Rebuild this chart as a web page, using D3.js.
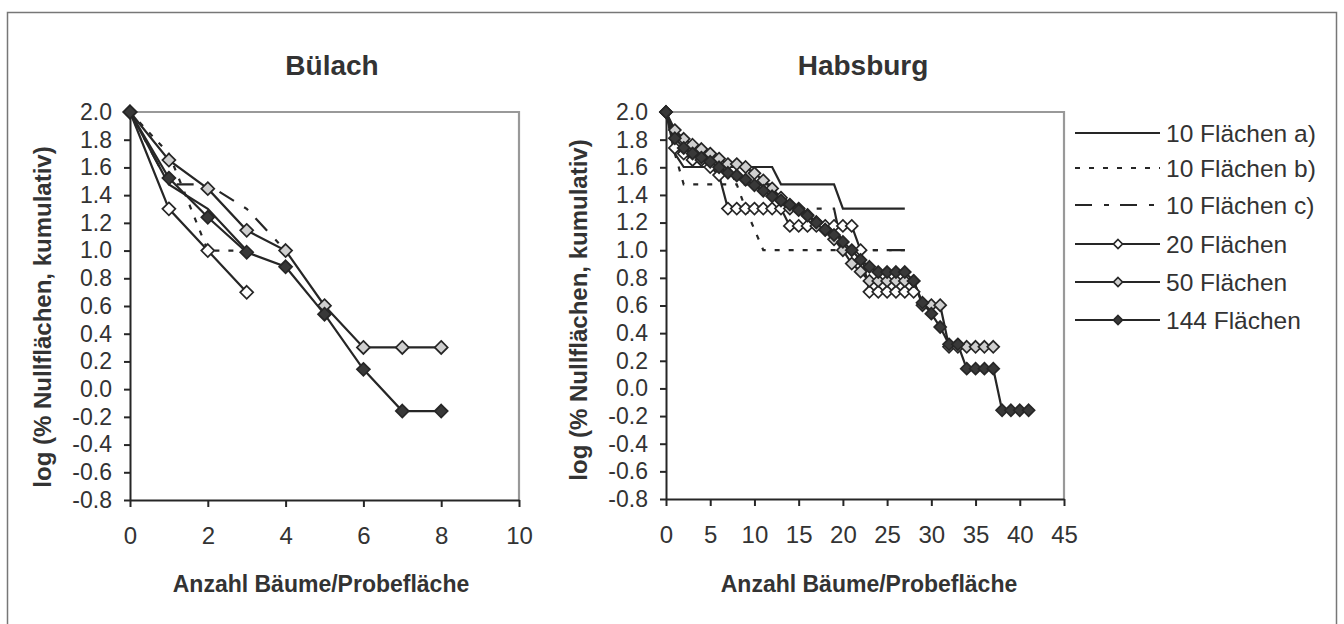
<!DOCTYPE html>
<html><head><meta charset="utf-8">
<script src="https://cdn.jsdelivr.net/npm/d3@7/dist/d3.min.js"></script>
<style>body{margin:0;background:#fff} svg{display:block}</style>
</head><body><svg id="c" width="1344" height="624"></svg>
<script>
// ---------- DATA ----------
const seriesNames = ["10 Flächen a)", "10 Flächen b)", "10 Flächen c)", "20 Flächen", "50 Flächen", "144 Flächen"];
const yTicks = [-0.8, -0.6, -0.4, -0.2, 0.0, 0.2, 0.4, 0.6, 0.8, 1.0, 1.2, 1.4, 1.6, 1.8, 2.0];
const xTicksBulach = [0, 2, 4, 6, 8, 10];
const xTicksHabsburg = [0, 5, 10, 15, 20, 25, 30, 35, 40, 45];

// Bülach: value at x = 0,1,2,... (Anzahl Bäume/Probefläche)
const bulach_a   = [2.0, 1.477, 1.301, 1.0];
const bulach_b   = [2.0, 1.699, 1.0, 1.0];
const bulach_c   = [2.0, 1.477, 1.477, 1.301, 1.0];
const bulach_20  = [2.0, 1.301, 1.0, 0.699];
const bulach_50  = [2.0, 1.653, 1.447, 1.146, 1.0, 0.602, 0.301, 0.301, 0.301];
const bulach_144 = [2.0, 1.523, 1.24, 0.988, 0.883, 0.541, 0.143, -0.158, -0.158];

// Habsburg
const habsburg_a = [2.0, 1.699, 1.602, 1.602, 1.602, 1.602, 1.602, 1.602, 1.602, 1.602, 1.602, 1.602, 1.602,
  1.477, 1.477, 1.477, 1.477, 1.477, 1.477, 1.477, 1.301, 1.301, 1.301, 1.301, 1.301, 1.301, 1.301, 1.301];
const habsburg_b = [2.0, 1.699, 1.477, 1.477, 1.477, 1.477, 1.477, 1.477, 1.477, 1.30, 1.15,
  1.0, 1.0, 1.0, 1.0, 1.0, 1.0, 1.0, 1.0, 1.0, 1.0, 1.0, 1.0, 1.0, 1.0, 1.0, 1.0, 1.0];
const habsburg_c = [2.0, 1.845, 1.778, 1.699, 1.699, 1.602, 1.602, 1.602, 1.477, 1.477, 1.477, 1.477, 1.477,
  1.301, 1.301, 1.301, 1.301, 1.301, 1.301, 1.301, 1.0, 1.0, 1.0, 1.0, 1.0, 1.0, 1.0, 1.0];
const habsburg_20 = [2.0, 1.740, 1.699, 1.653, 1.653, 1.602, 1.544, 1.301, 1.301, 1.301, 1.301, 1.301, 1.301, 1.301,
  1.176, 1.176, 1.176, 1.176, 1.176, 1.176, 1.176, 1.176, 1.0, 0.699, 0.699, 0.699, 0.699, 0.699, 0.699];
const habsburg_50 = [2.0, 1.869, 1.806, 1.763, 1.732, 1.699, 1.663, 1.623, 1.623, 1.602, 1.556, 1.505, 1.447, 1.380,
  1.301, 1.301, 1.255, 1.204, 1.146, 1.079, 1.0, 0.903, 0.845, 0.778, 0.778, 0.778, 0.778, 0.778, 0.778,
  0.602, 0.602, 0.602, 0.301, 0.301, 0.301, 0.301, 0.301, 0.301];
const habsburg_144 = [2.0, 1.81, 1.74, 1.70, 1.67, 1.64, 1.60, 1.56, 1.54, 1.51, 1.47, 1.43, 1.39, 1.36, 1.33, 1.29,
  1.25, 1.20, 1.15, 1.11, 1.06, 1.00, 0.93, 0.88, 0.842, 0.842, 0.842, 0.842, 0.778, 0.620, 0.541, 0.444,
  0.319, 0.319, 0.143, 0.143, 0.143, 0.143, -0.158, -0.158, -0.158, -0.158];

// ---------- STYLE ----------
const FONT = "'Liberation Sans', Arial, Helvetica, sans-serif";
const INK = "#262626";
const styles = [
  {dash: null, marker: null},
  {dash: "5,9", marker: null},
  {dash: "17,12,5,11", marker: null},
  {dash: null, marker: "#ffffff"},
  {dash: null, marker: "#cfcfcf"},
  {dash: null, marker: "#383838"}
];

const svg = d3.select("#c");
svg.append("rect").attr("x", 7.5).attr("y", 12.5).attr("width", 1329).attr("height", 700)
  .attr("fill", "none").attr("stroke", "#777").attr("stroke-width", 1.5);

function diamond(g, cx, cy, r, fill) {
  g.append("path")
    .attr("d", `M${cx},${cy - r}L${cx + r},${cy}L${cx},${cy + r}L${cx - r},${cy}Z`)
    .attr("fill", fill).attr("stroke", INK).attr("stroke-width", 1.7);
}

function panel(cfg) {
  const g = svg.append("g");
  const x = d3.scaleLinear().domain([0, cfg.xmax]).range([cfg.x0, cfg.x1]);
  const y = d3.scaleLinear().domain([-0.8, 2.0]).range([cfg.y1, cfg.y0]);

  // plot frame (top + right grey)
  g.append("path").attr("d", `M${cfg.x0},${cfg.y0}H${cfg.x1}V${cfg.y1}`)
    .attr("fill", "none").attr("stroke", "#999").attr("stroke-width", 2.2);

  // axes
  const ya = g.append("g").attr("transform", `translate(${cfg.x0},0)`)
    .call(d3.axisLeft(y).tickValues(yTicks).tickSizeInner(6).tickSizeOuter(0).tickPadding(12)
      .tickFormat(d => d.toFixed(1)));
  const xa = g.append("g").attr("transform", `translate(0,${cfg.y1})`)
    .call(d3.axisBottom(x).tickValues(cfg.xticks).tickSizeInner(7).tickSizeOuter(0).tickPadding(20)
      .tickFormat(d => String(d)));
  [ya, xa].forEach(a => {
    a.selectAll("path,line").attr("stroke", INK).attr("stroke-width", 2);
    a.selectAll("text").attr("fill", "#333").style("font-family", FONT);
  });
  ya.selectAll("text").style("font-size", "23px");
  xa.selectAll("text").style("font-size", "24px");

  // series
  const line = d3.line().x((d, i) => x(i)).y(d => y(d));
  cfg.series.forEach((vals, si) => {
    const st = styles[si];
    g.append("path").datum(vals).attr("d", line)
      .attr("fill", "none").attr("stroke", INK).attr("stroke-width", 2.2)
      .attr("stroke-dasharray", st.dash);
  });
  cfg.series.forEach((vals, si) => {
    const st = styles[si];
    if (!st.marker) return;
    vals.forEach((v, i) => diamond(g, x(i), y(v), cfg.mr, st.marker));
  });

  // titles
  g.append("text").attr("x", cfg.titleX).attr("y", 75).attr("text-anchor", "middle")
    .style("font-family", FONT).style("font-weight", "bold").style("font-size", "28px")
    .attr("fill", "#333").text(cfg.title);
  g.append("text").attr("x", cfg.xtitleX).attr("y", 592).attr("text-anchor", "middle")
    .style("font-family", FONT).style("font-weight", "bold").style("font-size", "23px")
    .attr("fill", "#333").text("Anzahl Bäume/Probefläche");
  g.append("text").attr("transform", `translate(${cfg.ytitleX},${cfg.ytitleY}) rotate(-90)`)
    .attr("text-anchor", "middle")
    .style("font-family", FONT).style("font-weight", "bold").style("font-size", "24px")
    .attr("fill", "#333").text("log (% Nullflächen, kumulativ)");
}

panel({x0: 130, x1: 519, y0: 112, y1: 500, xmax: 10, xticks: xTicksBulach, mr: 6.5,
  series: [bulach_a, bulach_b, bulach_c, bulach_20, bulach_50, bulach_144],
  title: "Bülach", titleX: 332, xtitleX: 321, ytitleX: 51, ytitleY: 317});
panel({x0: 666, x1: 1064, y0: 112, y1: 499, xmax: 45, xticks: xTicksHabsburg, mr: 6,
  series: [habsburg_a, habsburg_b, habsburg_c, habsburg_20, habsburg_50, habsburg_144],
  title: "Habsburg", titleX: 863, xtitleX: 869, ytitleX: 587, ytitleY: 310});

// legend
const legRows = [133, 168, 205, 244, 282, 320];
const lg = svg.append("g");
seriesNames.forEach((name, i) => {
  const yy = legRows[i];
  lg.append("line").attr("x1", 1075).attr("x2", 1160).attr("y1", yy).attr("y2", yy)
    .attr("stroke", INK).attr("stroke-width", 2).attr("stroke-dasharray", styles[i].dash);
  if (styles[i].marker) diamond(lg, 1118, yy, 4.5, styles[i].marker);
  lg.append("text").attr("x", 1166).attr("y", yy).attr("dy", "0.35em")
    .style("font-family", FONT).style("font-size", "24.5px").attr("fill", "#333").text(name);
});
</script>
</body></html>
